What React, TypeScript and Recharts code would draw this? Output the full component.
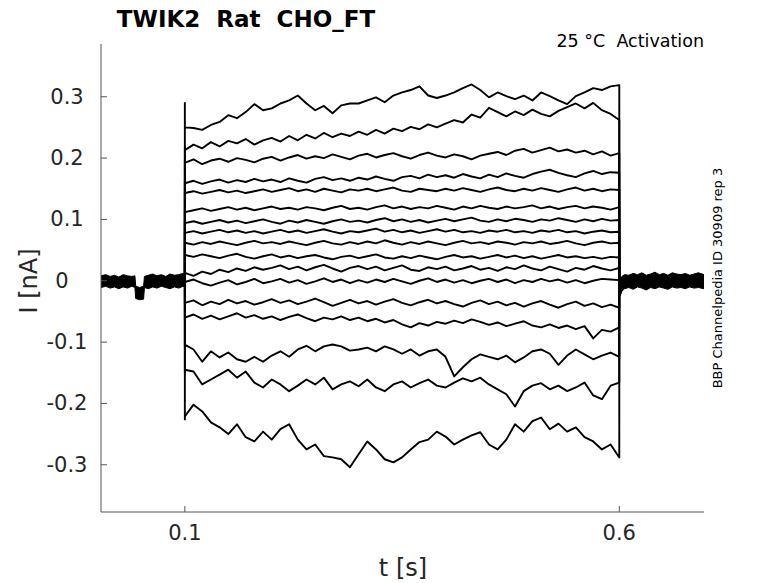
import { ComposedChart, Line, Area, XAxis, YAxis } from 'recharts';

// sample times of the step traces (s)
const T = [
  0.10, 0.11, 0.12, 0.13, 0.14, 0.15, 0.16, 0.17, 0.18, 0.19,
  0.20, 0.21, 0.22, 0.23, 0.24, 0.25, 0.26, 0.27, 0.28, 0.29,
  0.30, 0.31, 0.32, 0.33, 0.34, 0.35, 0.36, 0.37, 0.38, 0.39,
  0.40, 0.41, 0.42, 0.43, 0.44, 0.45, 0.46, 0.47, 0.48, 0.49,
  0.50, 0.51, 0.52, 0.53, 0.54, 0.55, 0.56, 0.57, 0.58, 0.59,
  0.60,
];

// current (nA) of each voltage step, top to bottom
const TR1 = [
  0.250, 0.249, 0.246, 0.254, 0.259, 0.270, 0.265, 0.275, 0.288, 0.278,
  0.281, 0.289, 0.294, 0.302, 0.289, 0.278, 0.285, 0.273, 0.286, 0.289,
  0.289, 0.294, 0.299, 0.291, 0.302, 0.307, 0.311, 0.317, 0.302, 0.298,
  0.302, 0.307, 0.314, 0.320, 0.311, 0.299, 0.307, 0.301, 0.296, 0.302,
  0.294, 0.307, 0.301, 0.294, 0.288, 0.301, 0.307, 0.314, 0.311, 0.317,
  0.319,
];
const TR2 = [
  0.213, 0.222, 0.216, 0.226, 0.219, 0.228, 0.224, 0.231, 0.222, 0.229,
  0.233, 0.227, 0.236, 0.229, 0.238, 0.232, 0.241, 0.234, 0.240, 0.236,
  0.243, 0.238, 0.246, 0.240, 0.248, 0.244, 0.251, 0.247, 0.255, 0.250,
  0.256, 0.262, 0.258, 0.271, 0.266, 0.282, 0.275, 0.268, 0.276, 0.270,
  0.279, 0.272, 0.268, 0.277, 0.283, 0.289, 0.281, 0.290, 0.278, 0.272,
  0.262,
];
const TR3 = [
  0.192, 0.198, 0.190, 0.196, 0.199, 0.194, 0.200, 0.197, 0.193, 0.199,
  0.202, 0.196, 0.201, 0.205, 0.199, 0.203, 0.200, 0.206, 0.202, 0.198,
  0.204, 0.207, 0.201, 0.205, 0.208, 0.203, 0.199, 0.205, 0.209, 0.204,
  0.201, 0.206, 0.203, 0.198, 0.204, 0.207, 0.210, 0.205, 0.212, 0.215,
  0.209, 0.213, 0.217, 0.211, 0.214, 0.209, 0.212, 0.206, 0.211, 0.204,
  0.208,
];
const TR4 = [
  0.159, 0.163, 0.158, 0.162, 0.165, 0.160, 0.164, 0.161, 0.166, 0.162,
  0.165, 0.161, 0.167, 0.163, 0.160, 0.166, 0.169, 0.164, 0.167, 0.163,
  0.168, 0.165, 0.170, 0.166, 0.163, 0.169, 0.171, 0.167, 0.173, 0.169,
  0.172, 0.168, 0.174, 0.170, 0.167, 0.173, 0.169, 0.175, 0.171, 0.168,
  0.174, 0.178, 0.181, 0.176, 0.172, 0.169, 0.175, 0.179, 0.174, 0.177,
  0.176,
];
const TR5 = [
  0.143, 0.146, 0.142, 0.145, 0.148, 0.144, 0.147, 0.143, 0.146, 0.149,
  0.145, 0.148, 0.151, 0.146, 0.149, 0.145, 0.150, 0.147, 0.144, 0.149,
  0.147, 0.150, 0.146, 0.149, 0.152, 0.147, 0.145, 0.150, 0.148, 0.146,
  0.150, 0.147, 0.151, 0.148, 0.145, 0.149, 0.152, 0.148, 0.146, 0.150,
  0.147, 0.151, 0.148, 0.145, 0.149, 0.152, 0.147, 0.150, 0.146, 0.149,
  0.148,
];
const TR6 = [
  0.112, 0.115, 0.118, 0.114, 0.117, 0.120, 0.116, 0.119, 0.115, 0.118,
  0.121, 0.117, 0.119, 0.116, 0.120, 0.118, 0.115, 0.119, 0.122, 0.117,
  0.119, 0.116, 0.120, 0.123, 0.118, 0.121, 0.117, 0.120, 0.118, 0.122,
  0.119, 0.116, 0.121, 0.118, 0.122, 0.119, 0.117, 0.121, 0.118, 0.120,
  0.123, 0.118, 0.121, 0.117, 0.120, 0.122, 0.118, 0.121, 0.119, 0.116,
  0.120,
];
const TR7 = [
  0.094, 0.097, 0.093, 0.096, 0.099, 0.095, 0.098, 0.094, 0.097, 0.100,
  0.096, 0.093, 0.098, 0.095, 0.099, 0.096, 0.093, 0.097, 0.100, 0.096,
  0.098, 0.095, 0.099, 0.102, 0.097, 0.100, 0.096, 0.099, 0.095, 0.098,
  0.101, 0.097, 0.100, 0.103, 0.098, 0.096, 0.100, 0.097, 0.101, 0.099,
  0.096, 0.100, 0.098, 0.102, 0.099, 0.096, 0.100, 0.097, 0.101, 0.098,
  0.099,
];
const TR8 = [
  0.078, 0.081, 0.077, 0.080, 0.083, 0.079, 0.082, 0.078, 0.081, 0.077,
  0.080, 0.083, 0.079, 0.082, 0.078, 0.081, 0.084, 0.080, 0.077, 0.081,
  0.079, 0.082, 0.085, 0.080, 0.083, 0.079, 0.082, 0.078, 0.081, 0.084,
  0.080, 0.083, 0.079, 0.081, 0.078, 0.082, 0.080, 0.083, 0.079, 0.081,
  0.078, 0.082, 0.080, 0.083, 0.079, 0.081, 0.077, 0.080, 0.082, 0.079,
  0.080,
];
const TR9 = [
  0.062, 0.059, 0.063, 0.060, 0.064, 0.061, 0.058, 0.062, 0.065, 0.061,
  0.063, 0.060, 0.064, 0.061, 0.058, 0.062, 0.065, 0.061, 0.059, 0.063,
  0.060, 0.064, 0.061, 0.066, 0.062, 0.059, 0.063, 0.060, 0.064, 0.061,
  0.058, 0.062, 0.065, 0.061, 0.063, 0.060, 0.064, 0.062, 0.059, 0.063,
  0.061, 0.064, 0.060, 0.062, 0.065, 0.061, 0.058, 0.062, 0.064, 0.061,
  0.062,
];
const TR10 = [
  0.042, 0.039, 0.043, 0.040, 0.037, 0.041, 0.044, 0.039, 0.036, 0.040,
  0.043, 0.038, 0.041, 0.037, 0.040, 0.042, 0.038, 0.035, 0.039, 0.041,
  0.037, 0.040, 0.043, 0.038, 0.036, 0.040, 0.037, 0.041, 0.038, 0.035,
  0.039, 0.042, 0.038, 0.040, 0.036, 0.039, 0.042, 0.038, 0.041, 0.037,
  0.040, 0.036, 0.039, 0.042, 0.038, 0.040, 0.037, 0.039, 0.036, 0.039,
  0.038,
];
const TR11 = [
  0.013, 0.008, 0.015, 0.011, 0.018, 0.014, 0.020, 0.016, 0.022, 0.018,
  0.021, 0.025, 0.019, 0.023, 0.017, 0.022, 0.026, 0.020, 0.015, 0.021,
  0.024, 0.019, 0.023, 0.017, 0.021, 0.025, 0.018, 0.016, 0.022, 0.019,
  0.023, 0.017, 0.020, 0.024, 0.018, 0.021, 0.016, 0.022, 0.019, 0.025,
  0.020, 0.017, 0.023, 0.019, 0.015, 0.021, 0.018, 0.024, 0.020, 0.017,
  0.021,
];
const TR12 = [
  -0.002, 0.002, -0.004, -0.008, -0.003, 0.001, -0.006, -0.002, 0.003, -0.004,
  -0.001, 0.003, -0.003, 0.001, -0.005, -0.001, 0.004, -0.002, 0.002, -0.004,
  0.001, -0.003, 0.002, -0.002, 0.003, -0.001, -0.005, 0.000, 0.004, -0.002,
  0.002, -0.003, 0.001, -0.004, 0.000, 0.003, -0.002, 0.002, -0.004, 0.001,
  -0.002, 0.003, -0.001, 0.002, -0.003, 0.001, -0.004, 0.000, 0.003, 0.002,
  0.001,
];
const TR13 = [
  -0.036, -0.032, -0.040, -0.034, -0.038, -0.031, -0.037, -0.033, -0.039, -0.035,
  -0.030, -0.036, -0.032, -0.038, -0.034, -0.029, -0.035, -0.041, -0.036, -0.031,
  -0.037, -0.033, -0.039, -0.034, -0.030, -0.036, -0.040, -0.035, -0.031, -0.037,
  -0.033, -0.038, -0.042, -0.036, -0.032, -0.038, -0.034, -0.040, -0.036, -0.042,
  -0.037, -0.033, -0.039, -0.044, -0.038, -0.034, -0.041, -0.037, -0.043, -0.039,
  -0.044,
];
const TR14 = [
  -0.060, -0.055, -0.062, -0.057, -0.063, -0.058, -0.053, -0.060, -0.056, -0.062,
  -0.058, -0.064, -0.059, -0.055, -0.061, -0.066, -0.060, -0.063, -0.058, -0.064,
  -0.060, -0.066, -0.062, -0.068, -0.064, -0.071, -0.076, -0.069, -0.073, -0.067,
  -0.070, -0.065, -0.069, -0.063, -0.067, -0.072, -0.068, -0.074, -0.070, -0.066,
  -0.073, -0.076, -0.071, -0.077, -0.073, -0.079, -0.074, -0.094, -0.080, -0.083,
  -0.076,
];
const TR15 = [
  -0.104, -0.112, -0.132, -0.115, -0.125, -0.117, -0.128, -0.132, -0.124, -0.132,
  -0.122, -0.115, -0.124, -0.112, -0.106, -0.115, -0.107, -0.104, -0.107, -0.114,
  -0.112, -0.109, -0.115, -0.107, -0.112, -0.119, -0.112, -0.122, -0.115, -0.112,
  -0.124, -0.156, -0.141, -0.128, -0.120, -0.124, -0.128, -0.122, -0.133, -0.125,
  -0.115, -0.112, -0.119, -0.137, -0.122, -0.112, -0.120, -0.128, -0.122, -0.117,
  -0.124,
];
const TR16 = [
  -0.145, -0.148, -0.169, -0.161, -0.153, -0.145, -0.158, -0.148, -0.166, -0.174,
  -0.161, -0.169, -0.180, -0.171, -0.161, -0.169, -0.158, -0.177, -0.169, -0.164,
  -0.172, -0.161, -0.174, -0.180, -0.169, -0.164, -0.174, -0.167, -0.161, -0.171,
  -0.174, -0.166, -0.159, -0.164, -0.158, -0.169, -0.177, -0.185, -0.205, -0.180,
  -0.171, -0.167, -0.177, -0.171, -0.180, -0.174, -0.166, -0.187, -0.193, -0.171,
  -0.166,
];
const TR17 = [
  -0.221, -0.202, -0.213, -0.231, -0.239, -0.250, -0.234, -0.255, -0.262, -0.246,
  -0.259, -0.242, -0.234, -0.259, -0.275, -0.267, -0.286, -0.288, -0.291, -0.304,
  -0.283, -0.262, -0.275, -0.291, -0.296, -0.288, -0.275, -0.263, -0.259, -0.246,
  -0.254, -0.267, -0.259, -0.252, -0.247, -0.267, -0.275, -0.259, -0.234, -0.246,
  -0.229, -0.223, -0.242, -0.233, -0.246, -0.239, -0.255, -0.262, -0.275, -0.267,
  -0.288,
];
const TRACES = [TR1, TR2, TR3, TR4, TR5, TR6, TR7, TR8, TR9, TR10, TR11, TR12, TR13, TR14, TR15, TR16, TR17];

// capacitive transient right at the step onset
const ONSET = [0.290, 0.218, 0.195, 0.162, 0.146, 0.114, 0.096, 0.080, 0.063, 0.043, 0.014, -0.002, -0.037, -0.062, -0.108, -0.150, -0.226];

// holding current before and after the step: all sweeps overlap into a band (upper / lower edge)
const PRE_T = [0.0035, 0.009, 0.014, 0.019, 0.024, 0.029, 0.034, 0.039, 0.0425, 0.0435, 0.048, 0.0525, 0.0535, 0.058, 0.063, 0.068, 0.073, 0.078, 0.083, 0.088, 0.093, 0.098, 0.100];
const PRE_HI = [0.008, 0.010, 0.007, 0.009, 0.006, 0.010, 0.008, 0.007, 0.008, -0.009, -0.011, -0.009, 0.007, 0.009, 0.011, 0.008, 0.010, 0.007, 0.011, 0.009, 0.010, 0.012, 0.009];
const PRE_LO = [-0.011, -0.009, -0.012, -0.010, -0.013, -0.010, -0.012, -0.009, -0.011, -0.029, -0.031, -0.030, -0.011, -0.013, -0.010, -0.012, -0.009, -0.011, -0.013, -0.010, -0.012, -0.009, -0.011];
const POST_T = [0.600, 0.601, 0.603, 0.606, 0.611, 0.616, 0.621, 0.626, 0.631, 0.636, 0.641, 0.646, 0.651, 0.656, 0.661, 0.666, 0.671, 0.676, 0.681, 0.686, 0.691, 0.6975];
const POST_HI = [0.006, 0.004, 0.007, 0.010, 0.009, 0.012, 0.010, 0.013, 0.009, 0.011, 0.014, 0.010, 0.012, 0.009, 0.013, 0.011, 0.010, 0.012, 0.009, 0.011, 0.013, 0.010];
const POST_LO = [-0.020, -0.025, -0.017, -0.013, -0.011, -0.014, -0.010, -0.012, -0.015, -0.011, -0.013, -0.010, -0.012, -0.014, -0.010, -0.012, -0.011, -0.013, -0.010, -0.012, -0.011, -0.013];

const X_TICKS = [0.1, 0.6];
const Y_TICKS = [-0.3, -0.2, -0.1, 0, 0.1, 0.2, 0.3];

const FONT = '"DejaVu Sans", sans-serif';
const AXIS = '#555';
const INK = '#262626';

const traceData = TRACES.map((vals, i) => [
  { t: 0.1, v: 0 },
  { t: 0.1, v: ONSET[i] },
  ...vals.map((v, j) => ({ t: T[j], v })),
  { t: 0.6, v: 0 },
]);
const preData = PRE_T.map((t, i) => ({ t, r: [PRE_LO[i], PRE_HI[i]] }));
const postData = POST_T.map((t, i) => ({ t, r: [POST_LO[i], POST_HI[i]] }));

const YTick = (props: any) => {
  const { y, payload } = props;
  return (
    <g>
      <line x1={101} x2={107} y1={y} y2={y} stroke={AXIS} />
      <text x={payload.value === 0 ? 62 : 67} y={y} textAnchor="middle" dominantBaseline="central" fontFamily={FONT} fontSize={21} fill={INK}>
        {payload.value}
      </text>
    </g>
  );
};

const XTick = (props: any) => {
  const { x, payload } = props;
  return (
    <g>
      <line x1={x} x2={x} y1={512} y2={506} stroke={AXIS} />
      <text x={x} y={533} textAnchor="middle" dominantBaseline="central" fontFamily={FONT} fontSize={21} fill={INK}>
        {payload.value}
      </text>
    </g>
  );
};

export default function App() {
  return (
    <div style={{ position: 'absolute', left: 0, top: 0, width: 778, height: 583, background: '#fff' }}>
      <ComposedChart width={778} height={583} margin={{ top: 44, right: 74, bottom: 31, left: 41 }}>
        <XAxis
          type="number"
          dataKey="t"
          domain={[0.0035, 0.6975]}
          allowDataOverflow
          ticks={X_TICKS}
          tick={XTick}
          tickLine={false}
          axisLine={{ stroke: AXIS }}
          height={40}
        />
        <YAxis
          type="number"
          domain={[-0.377, 0.386]}
          allowDataOverflow
          ticks={Y_TICKS}
          tick={YTick}
          tickLine={false}
          axisLine={{ stroke: AXIS }}
          width={60}
        />
        <Area data={preData} dataKey="r" type="linear" stroke="#000" strokeWidth={1} fill="#000" fillOpacity={1} dot={false} activeDot={false} isAnimationActive={false} />
        <Area data={postData} dataKey="r" type="linear" stroke="#000" strokeWidth={1} fill="#000" fillOpacity={1} dot={false} activeDot={false} isAnimationActive={false} />
        {traceData.map((d, i) => (
          <Line key={i} data={d} dataKey="v" stroke="#000" strokeWidth={1.9} strokeLinejoin="round" dot={false} activeDot={false} isAnimationActive={false} />
        ))}
      </ComposedChart>
      <svg width={778} height={583} style={{ position: 'absolute', left: 0, top: 0, pointerEvents: 'none' }}>
        <text x={246} y={27} textAnchor="middle" fontFamily={FONT} fontWeight="bold" fontSize={23} fill="#000" style={{ whiteSpace: 'pre' }}>
          TWIK2  Rat  CHO_FT
        </text>
        <text x={704} y={47} textAnchor="end" fontFamily={FONT} fontSize={17.5} fill="#000" style={{ whiteSpace: 'pre' }}>
          25 °C  Activation
        </text>
        <text
          x={722}
          y={278}
          textAnchor="middle"
          transform="rotate(-90 722 278)"
          fontFamily={FONT}
          fontSize={13}
          fill="#000"
        >
          BBP Channelpedia ID 30909 rep 3
        </text>
        <text x={403} y={576} textAnchor="middle" fontFamily={FONT} fontSize={24} fill={INK}>
          t [s]
        </text>
        <text
          x={37}
          y={281}
          textAnchor="middle"
          transform="rotate(-90 37 281)"
          fontFamily={FONT}
          fontSize={24}
          fill={INK}
        >
          I [nA]
        </text>
      </svg>
    </div>
  );
}
